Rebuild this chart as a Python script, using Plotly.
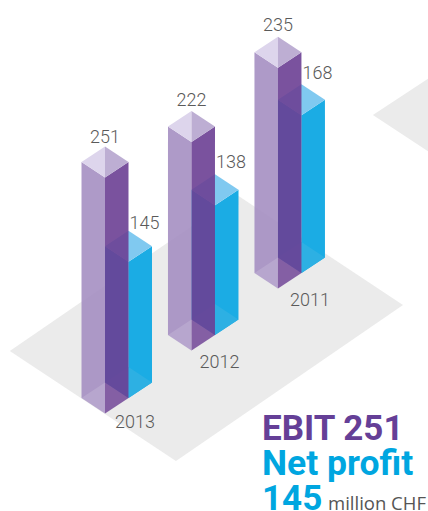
import plotly.graph_objects as go

# ---- data ----
years = ["2013", "2012", "2011"]
ebit = [251, 222, 235]
net_profit = [145, 138, 168]
title_lines = ["EBIT 251", "Net profit", "145"]
unit_label = "million CHF"

# ---- isometric projection (u runs up-right, v down-right, h up) ----
ORIGIN = (105.0, 398.0)
U = (23.5, -15.5)
V = (23.5, 15.5)
PX_PER_UNIT = 0.94


def project(u, v, h=0.0):
    return (ORIGIN[0] + u * U[0] + v * V[0],
            ORIGIN[1] + u * U[1] + v * V[1] - h * PX_PER_UNIT)


# ground position of each year's purple bar, in iso cells
anchors = [(0.0, 0.0), (3.87, -0.19), (7.71, -0.35)]
# label nudges in pixels for each year: EBIT, net profit, year
ebit_nudge = [(0, -24), (0, -25), (0, -26)]
net_nudge = [(16, -22), (16, -26), (16, -25)]
year_nudge = [(30, 25), (28, 28), (32, 28)]

fig = go.Figure()


def poly(points, color):
    xs = [p[0] for p in points] + [points[0][0]]
    ys = [p[1] for p in points] + [points[0][1]]
    fig.add_trace(go.Scatter(x=xs, y=ys, mode="lines", fill="toself", fillcolor=color,
                             line=dict(width=0), hoverinfo="skip", showlegend=False))


def label(u, v, h, text, nudge):
    x, y = project(u, v, h)
    fig.add_trace(go.Scatter(x=[x + nudge[0]], y=[y + nudge[1]], mode="text", text=[text],
                             textposition="middle center",
                             textfont=dict(family="Roboto Light, Roboto", size=18, color="#5A5A5A"),
                             hoverinfo="skip", showlegend=False))


def corners(u, v, h):
    r = 0.5
    return (project(u + r, v - r, h), project(u + r, v + r, h),
            project(u - r, v + r, h), project(u - r, v - r, h))


def half_left(u, v, h):
    back, right, front, left = corners(u, v, h)
    return [back, left, front]


def half_right(u, v, h):
    back, right, front, left = corners(u, v, h)
    return [back, right, front]


GREY = "#EBEBEB"
# floor plate under the bars and the plate running off the right edge
poly([project(-0.51, -3.54), project(-0.52, 3.54), project(9.34, 3.34), project(9.36, -3.74)], GREY)
poly([project(14.83, -3.43), project(19.0, -3.43), project(19.0, 1.0), project(14.83, 1.0)], GREY)

for (u0, v0), e, n in zip(anchors, ebit, net_profit):
    # blue bar, one cell behind and to the right
    ub, vb = u0 + 1.0, v0
    back, right, front, left = corners(ub, vb, 0)
    tb, tr, tf, tl = corners(ub, vb, n)
    poly([left, front, tf, tl], "#1BACE4")
    poly([front, right, tr, tf], "#1BACE4")
    poly(half_left(ub, vb, 0), "#2DB0E3")
    poly(half_right(ub, vb, 0), "#2DB0E3")
    poly([tb, tr, tf, tl], "#80C9F0")

    # purple bar, translucent, in front
    back, right, front, left = corners(u0, v0, 0)
    tb, tr, tf, tl = corners(u0, v0, e)
    poly([left, front, tf, tl], "rgba(165,143,194,0.9)")
    poly([front, right, tr, tf], "rgba(107,63,147,0.9)")
    poly(half_left(u0, v0, 0), "rgba(255,255,255,0.14)")
    poly(half_right(u0, v0, 0), "rgba(255,255,255,0.09)")
    poly(half_left(u0, v0, e), "#DDD5EC")
    poly(half_right(u0, v0, e), "#BDAED3")

for (u0, v0), y, e, n, en, nn, yn in zip(anchors, years, ebit, net_profit, ebit_nudge, net_nudge, year_nudge):
    label(u0, v0, e, str(e), en)
    label(u0 + 1.0, v0, n, str(n), nn)
    label(u0, v0, 0, y, yn)

annotations = [
    dict(x=260, y=428, text=f"<b>{title_lines[0]}</b>", font=dict(family="Roboto", size=35, color="#653F97")),
    dict(x=260, y=463, text=f"<b>{title_lines[1]}</b>", font=dict(family="Roboto", size=35.5, color="#00A6E0")),
    dict(x=260, y=498, text=f"<b>{title_lines[2]}</b>", font=dict(family="Roboto", size=35, color="#00A6E0")),
    dict(x=326, y=502, text=unit_label, font=dict(family="Open Sans", size=18.5, color="#555555")),
]
for a in annotations:
    a.update(xref="x", yref="y", xanchor="left", yanchor="middle", showarrow=False)

fig.update_layout(
    width=428, height=511, margin=dict(l=0, r=0, t=0, b=0),
    paper_bgcolor="white", plot_bgcolor="white", showlegend=False,
    hovermode=False, annotations=annotations,
    xaxis=dict(range=[0, 428], visible=False, fixedrange=True),
    yaxis=dict(range=[511, 0], visible=False, fixedrange=True),
)
fig.write_html("out.html", config={"displayModeBar": False},
               post_script="document.body.style.margin='0';document.documentElement.style.overflow='hidden';")
